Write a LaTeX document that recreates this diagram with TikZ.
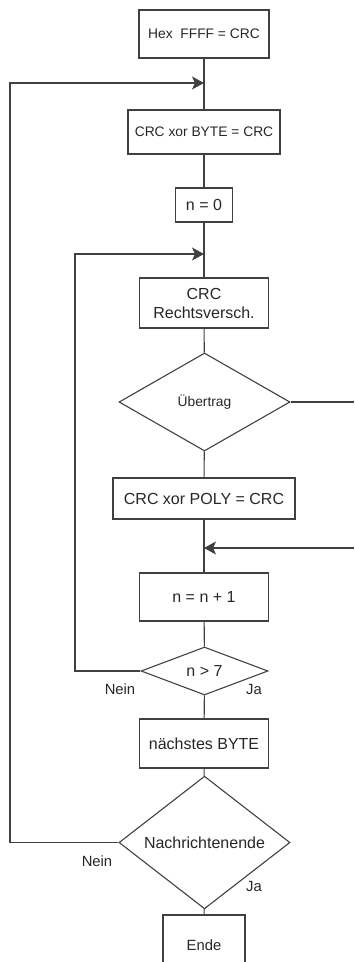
\documentclass[tikz,border=0pt]{standalone}
\usepackage{fontspec}
\setmainfont{Liberation Sans}
\usepackage{tikz}
\usetikzlibrary{arrows.meta, positioning, shapes.geometric}

\begin{document}
\begin{tikzpicture}[
    x=1pt, y=-1pt,
    every node/.style={
        text=black!85,
        font=\fontsize{16}{19}\selectfont
    },
    box/.style={
        draw=black!75,
        line width=1.1pt,
        rectangle,
        inner sep=0pt,
        align=center
    },
    query/.style={
        draw=black!75,
        line width=1.1pt,
        diamond,
        inner sep=0pt,
        align=center
    },
    small/.style={
        font=\fontsize{13.8}{16}\selectfont
    },
    answer/.style={
        font=\fontsize{14.8}{17}\selectfont
    },
    line/.style={
        draw=black!75,
        line width=1.1pt
    },
    arrow/.style={
        line,
        -{Stealth[length=12pt, width=13pt, inset=3pt]}
    }
]

\useasboundingbox (0,0) rectangle (354,962);
\clip (0,0) rectangle (354,962);

% Nodes (top to bottom)
\node[box, small, minimum width=130pt, minimum height=48pt] (start) at (204,34) {Hex\ \ FFFF = CRC};
\node[box, small, minimum width=152pt, minimum height=44pt] (xorbyte) at (204,132) {CRC xor BYTE = CRC};
\node[box, minimum width=57pt, minimum height=34pt] (nzero) at (204,205) {n = 0};
\node[box, minimum width=129pt, minimum height=50pt] (shift) at (204,303) {CRC\\Rechtsversch.};
\node[query, small, minimum width=171pt, minimum height=98pt] (carry) at (204.5,402) {Übertrag};
\node[box, minimum width=182pt, minimum height=41pt] (xorpoly) at (204,498.5) {CRC xor POLY = CRC};
\node[box, minimum width=129pt, minimum height=48pt] (incr) at (204,597) {n = n + 1};
\node[query, minimum width=127pt, minimum height=48pt] (bitcheck) at (204.5,671) {n > 7};
\node[box, minimum width=129pt, minimum height=49pt] (nextbyte) at (204,743.5) {nächstes BYTE};
\node[query, minimum width=171pt, minimum height=99pt] (msgend) at (204.5,842.5) {Nachrichtenende};
\node[box, answer, minimum width=82pt, minimum height=60pt] (finish) at (204,945) {Ende};

% Answers
\node[answer] (bitno) at (120,689) {Nein};
\node[answer] (bityes) at (254,689) {Ja};
\node[answer] (msgno) at (97,861) {Nein};
\node[answer] (msgyes) at (254,886) {Ja};

% Junctions
\coordinate (bytejoin) at (204,83);
\coordinate (bitjoin) at (204,254);
\coordinate (polyjoin) at (204,548);
\coordinate (outerloop) at (10,83);
\coordinate (innerloop) at (75,254);
\coordinate (carryout) at (354,402);
\coordinate (carryin) at (354,548);

% Main flow
\draw[line] (start) -- (xorbyte);
\draw[line] (xorbyte) -- (nzero);
\draw[line] (nzero) -- (shift);
\draw[line] (shift) -- (carry);
\draw[line] (carry) -- (xorpoly);
\draw[line] (xorpoly) -- (incr);
\draw[line] (incr) -- (bitcheck);
\draw[line] (bitcheck) -- (nextbyte);
\draw[line] (nextbyte) -- (msgend);
\draw[line] (msgend) -- (finish);

% Loops
\draw[arrow] (msgend.west) -| (outerloop) -- (bytejoin);
\draw[arrow] (bitcheck.west) -| (innerloop) -- (bitjoin);
\draw[line] (carry.east) -- (carryout);
\draw[arrow] (carryin) -- (polyjoin);

\end{tikzpicture}
\end{document}
